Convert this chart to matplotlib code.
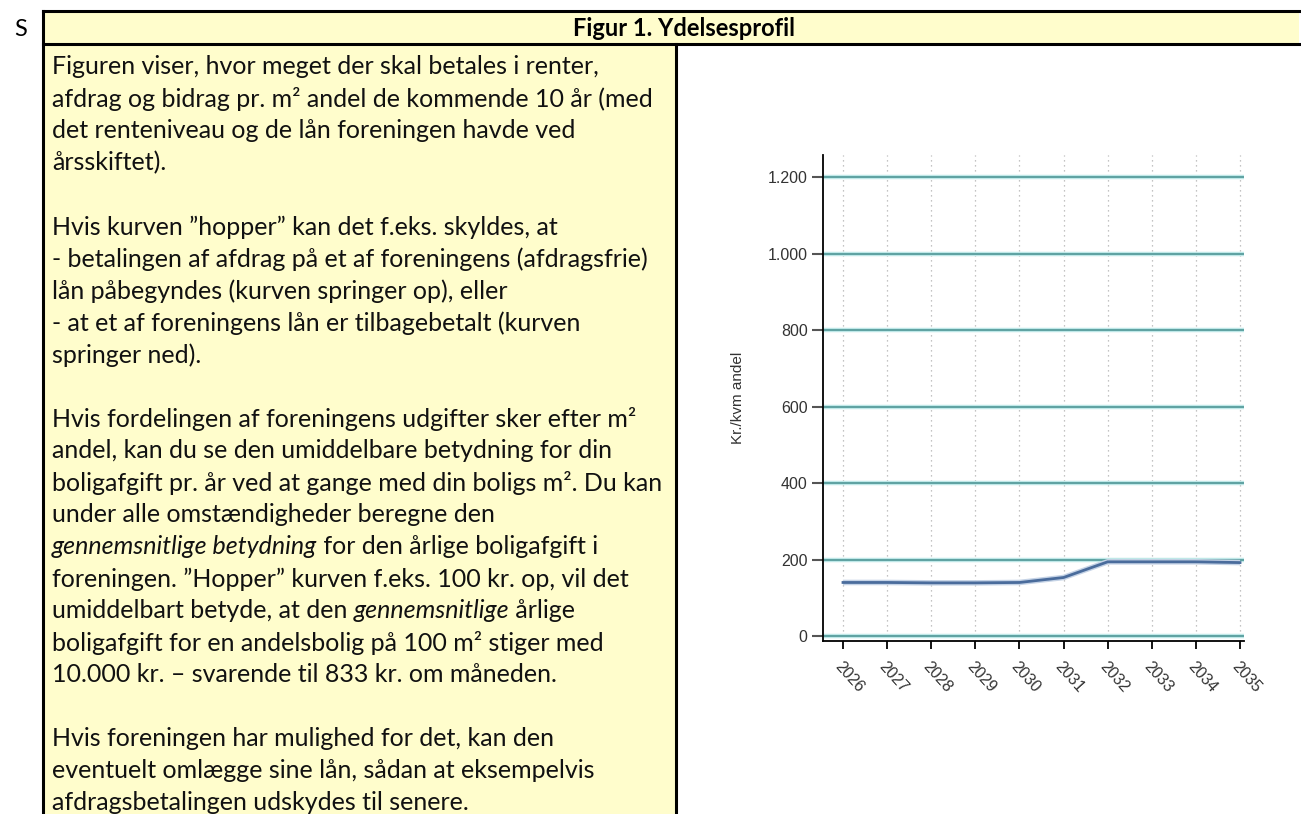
import matplotlib
matplotlib.use("Agg")
import matplotlib.pyplot as plt
from matplotlib.patches import Rectangle
from matplotlib.lines import Line2D

W, H = 1301, 814
years = [2026, 2027, 2028, 2029, 2030, 2031, 2032, 2033, 2034, 2035]
values = [140, 140, 139, 139, 140, 153, 194, 194, 194, 192]
yticks = [0, 200, 400, 600, 800, 1000, 1200]
ytick_labels = ["0", "200", "400", "600", "800", "1.000", "1.200"]
ylabel = "Kr./kvm andel"
title = "Figur 1. Ydelsesprofil"

# lines of the explanatory text; each line a list of (text, italic)
lines = [
    [("Figuren viser, hvor meget der skal betales i renter,", False)],
    [("afdrag og bidrag pr. m² andel de kommende 10 år (med", False)],
    [("det renteniveau og de lån foreningen havde ved", False)],
    [("årsskiftet).", False)],
    [],
    [("Hvis kurven ”hopper” kan det f.eks. skyldes, at", False)],
    [("- betalingen af afdrag på et af foreningens (afdragsfrie)", False)],
    [("lån påbegyndes (kurven springer op), eller", False)],
    [("- at et af foreningens lån er tilbagebetalt (kurven", False)],
    [("springer ned).", False)],
    [],
    [("Hvis fordelingen af foreningens udgifter sker efter m²", False)],
    [("andel, kan du se den umiddelbare betydning for din", False)],
    [("boligafgift pr. år ved at gange med din boligs m². Du kan", False)],
    [("under alle omstændigheder beregne den", False)],
    [("gennemsnitlige betydning", True), (" for den årlige boligafgift i", False)],
    [("foreningen. ”Hopper” kurven f.eks. 100 kr. op, vil det", False)],
    [("umiddelbart betyde, at den ", False), ("gennemsnitlige", True), (" årlige", False)],
    [("boligafgift for en andelsbolig på 100 m² stiger med", False)],
    [("10.000 kr. – svarende til 833 kr. om måneden.", False)],
    [],
    [("Hvis foreningen har mulighed for det, kan den", False)],
    [("eventuelt omlægge sine lån, sådan at eksempelvis", False)],
    [("afdragsbetalingen udskydes til senere.", False)],
]

fig = plt.figure(figsize=(W / 100, H / 100), dpi=100)
fig.patch.set_facecolor("white")

def fx(x):
    return x / W

def fy(y):
    return 1 - y / H

yellow = "#FFFDCC"
XL, XM, XR = 43, 676, 1299
YT, YB = 11, 44
fig.add_artist(Rectangle((fx(XL), fy(830)), fx(XM) - fx(XL), fy(YB) - fy(830),
                         transform=fig.transFigure, facecolor=yellow, edgecolor="none", zorder=0))
fig.add_artist(Rectangle((fx(XL), fy(YB)), fx(XR) - fx(XL), fy(YT) - fy(YB),
                         transform=fig.transFigure, facecolor=yellow, edgecolor="none", zorder=0))
lw = 2.2
for (x0, y0, x1, y1) in [(XL, YT, XR + 3, YT), (XL, YB, XR + 3, YB), (XL, YT, XL, 830),
                         (XM, YB, XM, 830)]:
    fig.add_artist(Line2D([fx(x0), fx(x1)], [fy(y0), fy(y1)], transform=fig.transFigure,
                          color="black", lw=lw, zorder=1))

font = "Lato"
fig.text(fx(14), fy(29), "S", fontsize=17, family=font, va="center", ha="left")
fig.text(fx(684), fy(28), title, fontsize=17, family=font, weight="bold",
         va="center", ha="center")

fig.canvas.draw()
renderer = fig.canvas.get_renderer()
fs = 18.0
y0 = 67
dy = 32.0
for i, segs in enumerate(lines):
    x = 52
    yy = y0 + i * dy
    for txt, it in segs:
        t = fig.text(fx(x), fy(yy), txt, fontsize=fs, family=font,
                     style="italic" if it else "normal", va="center", ha="left",
                     color="#111111")
        bb = t.get_window_extent(renderer)
        x += bb.width

# chart
ax = fig.add_axes([fx(823), fy(641), fx(1244) - fx(823), fy(155) - fy(641)])
ax.set_facecolor("none")
ax.set_xlim(2025.547, 2035.09)
ax.set_ylim(-13, 1257.5)
for v in yticks:
    ax.axhline(v, color="#bfe8e8", lw=3.2, zorder=1)
    ax.axhline(v, color="#4d9696", lw=1.2, zorder=2)
for yr in years:
    ax.axvline(yr, color="#b0b0b0", lw=0.9, ls=(0, (1, 3)), zorder=0)
ax.plot(years, values, color="#c5d3e6", lw=4, zorder=3, solid_capstyle="butt")
ax.plot(years, values, color="#4a6c9c", lw=2, zorder=4)
ax.spines["top"].set_visible(False)
ax.spines["right"].set_visible(False)
ax.spines["left"].set_color("black")
ax.spines["bottom"].set_color("black")
ax.spines["left"].set_linewidth(1.3)
ax.spines["bottom"].set_linewidth(1.3)
ax.set_yticks(yticks)
ax.set_yticklabels(ytick_labels)
ax.set_xticks(years)
ax.set_xticklabels([str(y) for y in years], rotation=-48, ha="left", va="top",
                   rotation_mode="anchor")
ax.tick_params(axis="y", length=8, width=1.5, color="#555555", labelsize=11.5,
               labelcolor="#333333", pad=3)
ax.tick_params(axis="x", length=6, width=1.3, color="black", labelsize=11.5,
               labelcolor="#333333", pad=7)
for lab in ax.get_yticklabels() + ax.get_xticklabels():
    lab.set_family("Liberation Sans")
ax.set_ylabel(ylabel, fontsize=11, family="Liberation Sans", color="#333333", labelpad=16)

fig.savefig("out.png", dpi=100)
